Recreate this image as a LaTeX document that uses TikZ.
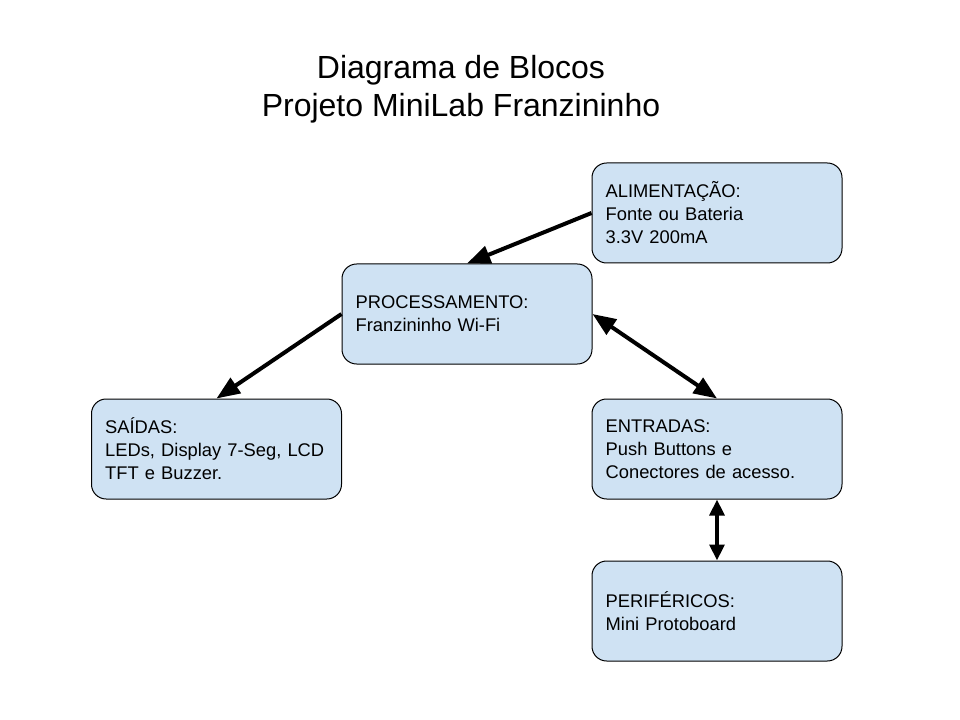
\documentclass[tikz,border=0pt]{standalone}
\usepackage{fontspec}
\setmainfont{Liberation Sans}
\usepackage{tikz}
\usetikzlibrary{arrows.meta}

\definecolor{blocoAzul}{HTML}{CFE2F3}

\begin{document}
\begin{tikzpicture}[x=0.75pt,y=-0.75pt,
	bloco/.style={draw=black, line width=0.75pt, fill=blocoAzul, rounded corners=11pt,
		minimum width=187.5pt, minimum height=75pt, inner xsep=10.25pt,
		text width=167pt, align=left,
		font=\fontsize{13.75}{17.25}\selectfont},
	seta/.style={line width=3pt, -{Triangle[length=17.5pt,width=13.5pt]}},
	setadupla/.style={line width=3pt, {Triangle[length=17.5pt,width=13.5pt]}-{Triangle[length=17.5pt,width=13.5pt]}},
	setacurta/.style={line width=3pt, {Triangle[length=12pt,width=11pt]}-{Triangle[length=12pt,width=11pt]}}]
	\newcommand{\colDir}{717}
	\newcommand{\colMeio}{467}
	\newcommand{\colEsq}{216.5}

	\useasboundingbox[fill=white] (0,0) rectangle (960,720);

	% titulo
	\node[align=center, font=\fontsize{24}{28.5}\selectfont] (titulo) at (461,89)
		{Diagrama de Blocos\\Projeto MiniLab Franzininho};

	% blocos
	\node[bloco] (alim) at (\colDir,213) {ALIMENTAÇÃO:\\Fonte ou Bateria\\3.3V 200mA};
	\node[bloco] (proc) at (\colMeio,314) {PROCESSAMENTO:\\Franzininho Wi-Fi};
	\node[bloco] (saidas) at (\colEsq,449) {SAÍDAS:\\LEDs, Display 7-Seg, LCD\\TFT e Buzzer.};
	\node[bloco] (entradas) at (\colDir,449) {ENTRADAS:\\Push Buttons e\\Conectores de acesso.};
	\node[bloco] (perif) at (\colDir,611) {PERIFÉRICOS:\\Mini Protoboard};

	% ligacoes
	\draw[seta] (alim.west) -- (proc.north);
	\draw[seta] (proc.west) -- (saidas.north);
	\draw[setadupla] (proc.east) -- (entradas.north);
	\draw[setacurta] (entradas.south) -- (perif.north);
\end{tikzpicture}
\end{document}
